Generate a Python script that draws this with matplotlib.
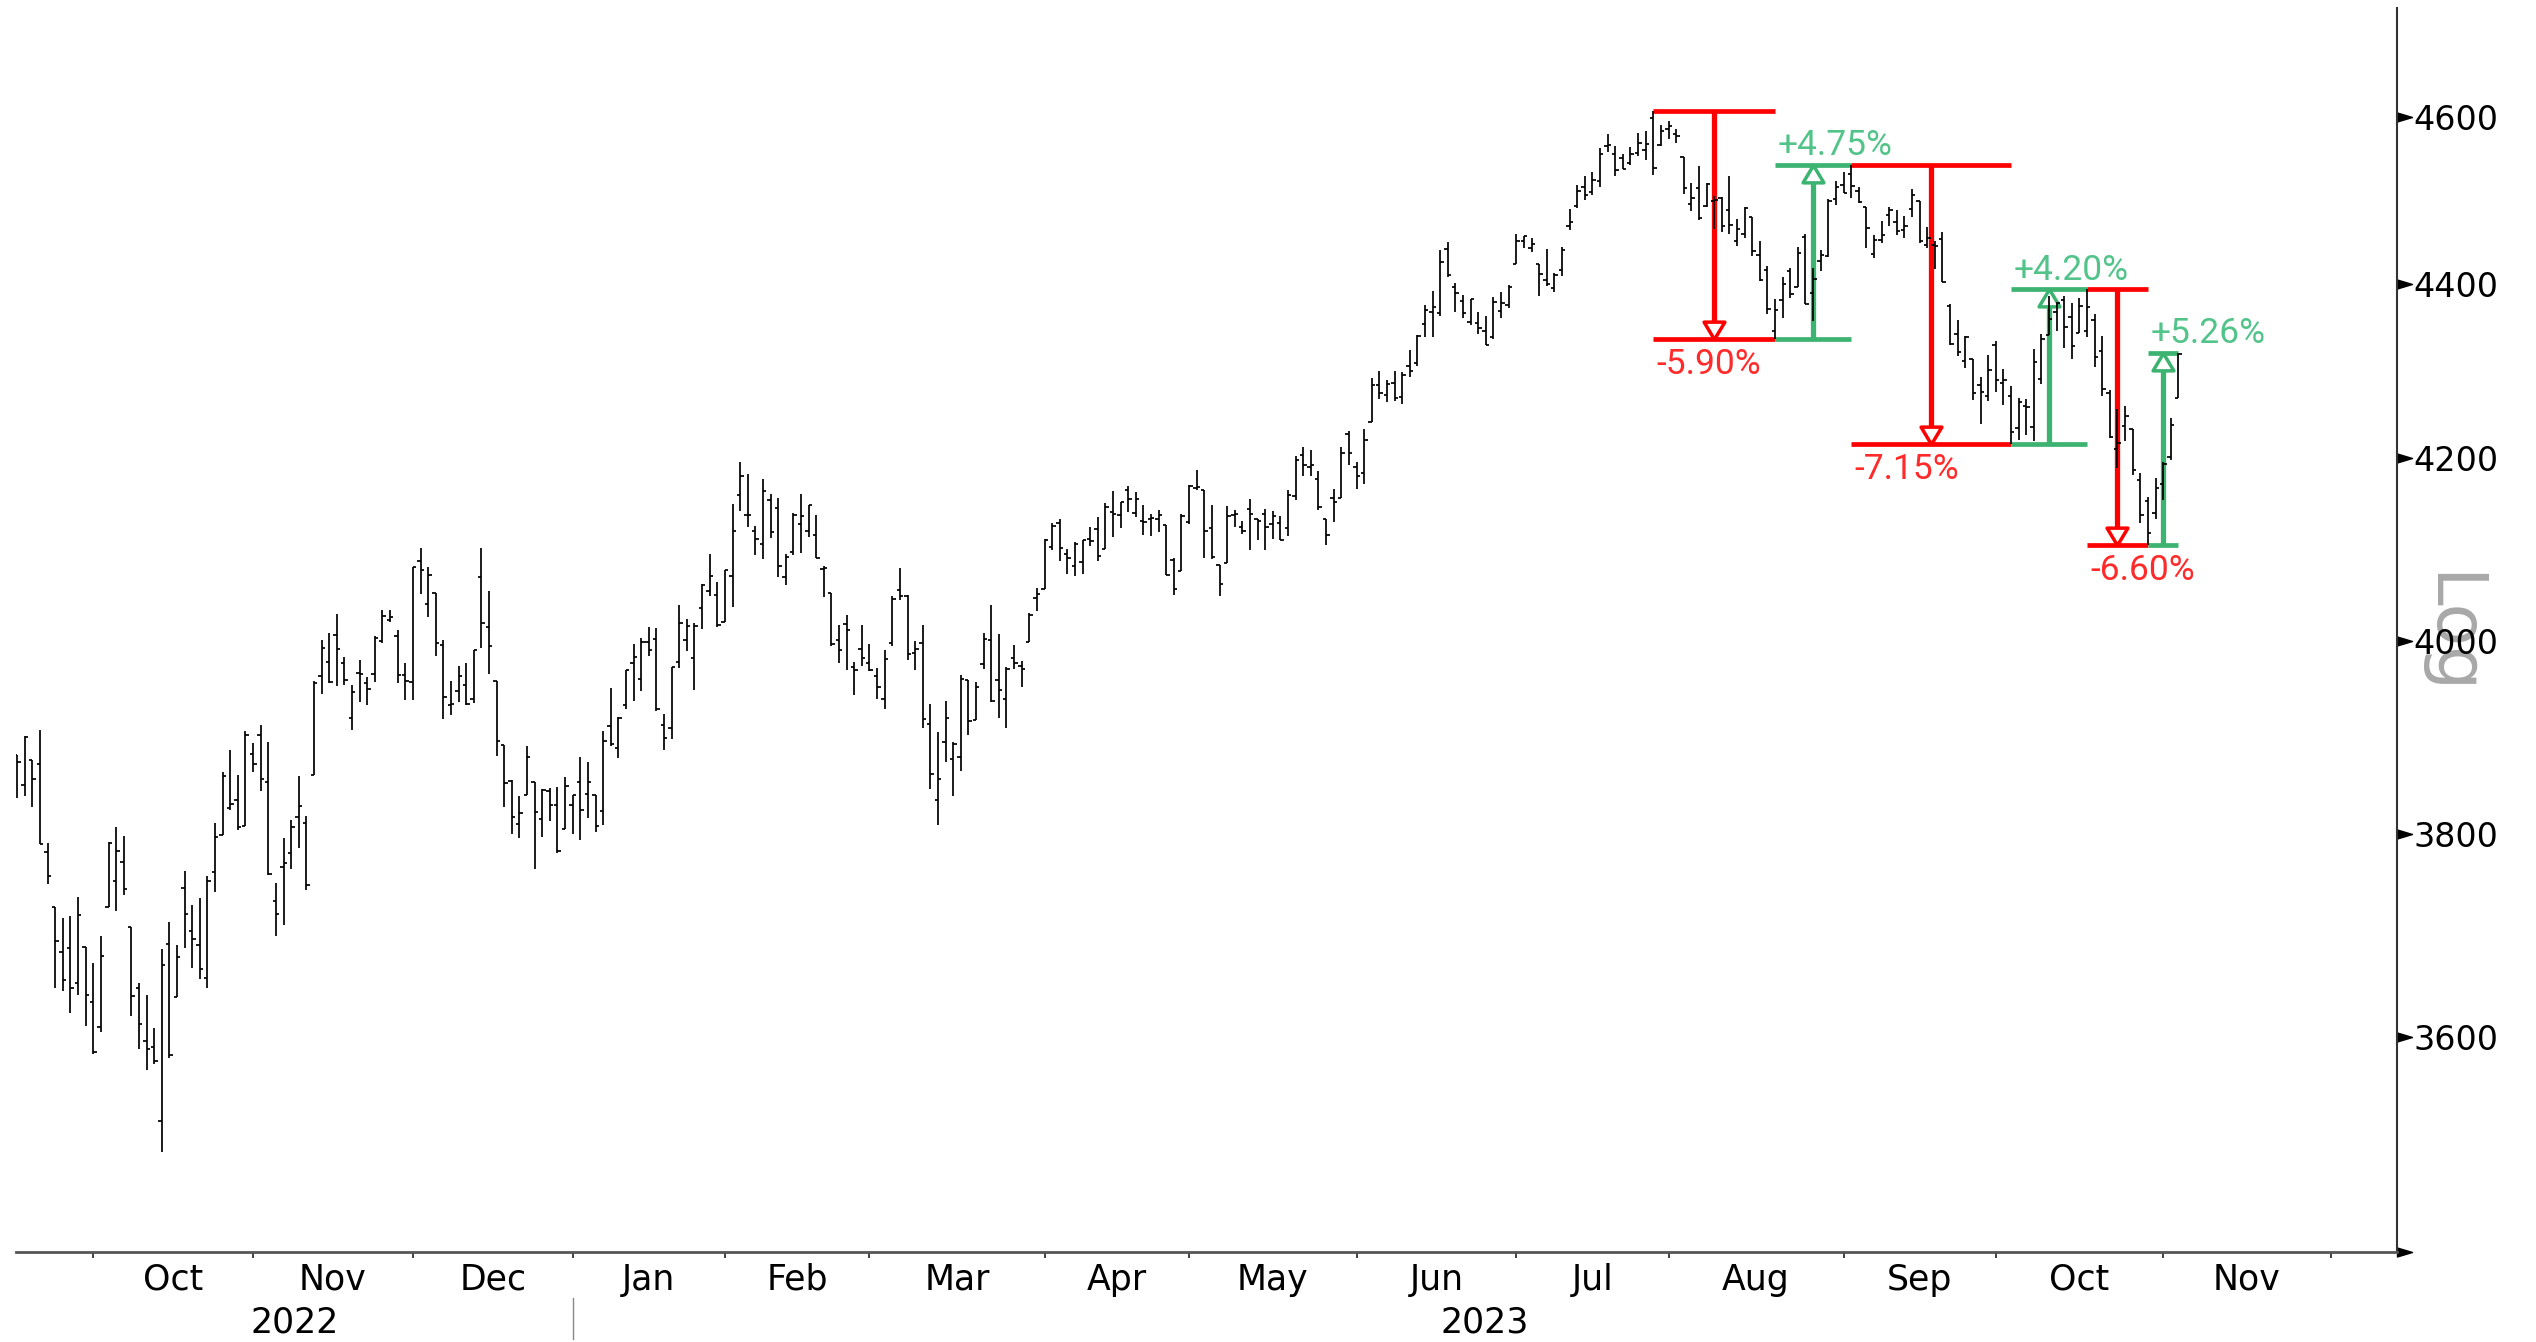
import numpy as np
import pandas as pd
import matplotlib
matplotlib.use("Agg")
import matplotlib.pyplot as plt
import matplotlib.transforms as mtransforms
from matplotlib.path import Path
from matplotlib.ticker import NullLocator, NullFormatter

# daily bars, 16 Sep 2022 -> 2 Nov 2023 (one row per month)
opens = [
    3880.95, 3849.91, 3875.23, 3871.40, 3782.36, 3727.14, 3682.72, 3686.44, 3651.94, 3687.01, 3633.48,
    3609.78, 3726.46, 3753.25, 3771.97, 3706.74, 3647.51, 3595.86, 3590.83, 3520.37, 3690.41, 3638.65, 3746.26, 3703.11, 3689.05, 3657.10, 3762.01, 3799.44, 3825.97, 3834.69, 3808.26, 3881.85,
    3901.79, 3852.90, 3733.25, 3766.98, 3780.71, 3817.02, 3810.94, 3859.89, 3963.72, 3977.97, 4006.41, 3976.82, 3919.26, 3966.39, 3956.23, 3965.51, 4000.30, 4023.34, 4005.36, 3964.19, 3957.18,
    4087.14, 4040.17, 4052.02, 3996.63, 3933.28, 3947.79, 3954.17, 3939.29, 4069.38, 4015.54, 3958.37, 3890.91, 3853.79, 3810.47, 3839.49, 3853.26, 3815.11, 3843.34, 3829.56, 3805.45, 3829.06,
    3853.29, 3840.36, 3839.74, 3823.37, 3910.82, 3888.57, 3932.35, 3977.57, 3960.60, 3999.28, 4002.25, 3911.84, 3909.04, 3978.14, 4001.74, 3982.71, 4036.08, 4053.72, 4049.27, 4020.85,
    4070.07, 4158.68, 4136.69, 4119.57, 4105.35, 4153.47, 4144.25, 4068.92, 4096.62, 4126.70, 4119.50, 4114.75, 4077.39, 4052.35, 4001.83, 4018.60, 3973.24, 3992.36, 3977.19,
    3963.34, 3938.68, 3998.02, 4055.15, 4048.26, 3987.55, 3998.66, 3912.77, 3835.12, 3894.01, 3876.74, 3878.93, 3958.69, 3917.47, 3975.89, 4002.04, 3959.21, 3939.21, 3982.93, 3974.13, 3999.53, 4046.74, 4056.18,
    4102.20, 4128.03, 4094.50, 4081.15, 4085.20, 4110.29, 4121.72, 4100.04, 4140.11, 4137.17, 4164.26, 4139.33, 4130.48, 4132.14, 4132.07, 4126.43, 4087.78, 4075.29, 4129.63,
    4166.79, 4164.10, 4122.25, 4082.61, 4084.73, 4136.98, 4124.25, 4143.74, 4132.24, 4138.54, 4126.65, 4127.95, 4122.85, 4157.68, 4204.15, 4190.78, 4176.80, 4132.96, 4155.71, 4156.16, 4226.71, 4190.74,
    4183.03, 4241.01, 4282.99, 4271.34, 4285.47, 4268.69, 4304.88, 4308.32, 4352.61, 4366.29, 4365.33, 4440.95, 4396.11, 4380.01, 4355.40, 4354.17, 4344.84, 4337.36, 4367.48, 4374.94, 4422.44,
    4450.48, 4442.04, 4422.62, 4404.54, 4394.23, 4415.55, 4467.69, 4491.50, 4514.61, 4508.86, 4521.78, 4563.87, 4554.38, 4550.16, 4543.39, 4555.19, 4558.96, 4598.26, 4565.75, 4584.82,
    4578.83, 4550.93, 4494.27, 4513.96, 4491.58, 4498.03, 4501.57, 4487.16, 4450.69, 4458.13, 4478.87, 4433.79, 4416.32, 4344.88, 4380.28, 4415.33, 4396.44, 4455.16, 4389.38, 4426.03, 4432.75, 4500.34, 4517.01,
    4530.60, 4510.06, 4490.35, 4434.55, 4451.30, 4480.98, 4473.27, 4462.65, 4487.78, 4497.98, 4445.13, 4445.41, 4452.81, 4374.36, 4341.74, 4310.62, 4312.88, 4282.63, 4269.65, 4328.18,
    4284.52, 4269.75, 4233.83, 4259.31, 4234.79, 4289.02, 4339.75, 4366.59, 4380.94, 4360.49, 4342.37, 4345.23, 4357.35, 4321.36, 4273.85, 4210.40, 4235.79, 4232.42, 4175.99, 4152.93, 4139.39, 4171.33,
    4201.27, 4268.26,
]
highs = [
    3880.95, 3900.45, 3876.01, 3907.07, 3790.53, 3727.14, 3715.67, 3717.53, 3736.74, 3687.01, 3671.44,
    3698.35, 3791.92, 3806.91, 3797.93, 3706.74, 3652.17, 3640.66, 3608.34, 3685.41, 3712.00, 3689.73, 3762.79, 3728.58, 3736.00, 3757.89, 3810.74, 3862.85, 3886.15, 3859.95, 3905.42, 3893.73,
    3911.79, 3894.44, 3750.59, 3796.34, 3813.95, 3859.40, 3818.20, 3958.33, 4001.48, 4008.97, 4028.84, 3983.09, 3954.33, 3979.89, 3962.00, 4005.88, 4033.78, 4034.02, 4012.27, 3976.77, 4080.11,
    4100.51, 4080.48, 4052.45, 4001.51, 3957.57, 3974.19, 3977.02, 3990.71, 4100.96, 4053.76, 3958.37, 3890.91, 3854.86, 3838.24, 3889.82, 3853.26, 3845.80, 3846.65, 3848.32, 3858.19, 3839.85,
    3878.46, 3873.16, 3839.74, 3906.19, 3950.57, 3919.83, 3970.07, 3997.76, 4003.95, 4015.39, 4014.16, 3922.94, 3972.96, 4039.31, 4023.92, 4019.55, 4061.57, 4094.21, 4063.85, 4077.16,
    4148.95, 4195.44, 4182.36, 4124.63, 4176.54, 4160.67, 4156.23, 4094.36, 4138.90, 4159.77, 4148.11, 4136.54, 4081.51, 4052.35, 4017.37, 4028.30, 3978.25, 4018.05, 3997.50,
    3971.73, 3990.84, 4048.29, 4078.49, 4050.00, 4000.41, 4017.81, 3934.05, 3905.05, 3937.29, 3894.26, 3964.46, 3958.91, 3956.62, 4009.08, 4039.49, 4007.66, 3972.74, 3996.68, 3979.20, 4030.59, 4057.85, 4110.75,
    4127.66, 4133.13, 4099.69, 4107.32, 4109.50, 4124.26, 4134.37, 4150.26, 4163.19, 4151.72, 4169.48, 4162.57, 4148.57, 4138.02, 4142.41, 4126.43, 4089.67, 4138.24, 4170.06,
    4186.92, 4164.10, 4148.30, 4082.61, 4147.02, 4142.30, 4130.35, 4154.28, 4132.80, 4143.74, 4141.25, 4135.54, 4164.67, 4202.20, 4212.91, 4209.22, 4185.68, 4132.96, 4165.74, 4212.87, 4231.10, 4195.44,
    4232.43, 4290.67, 4299.28, 4288.33, 4299.19, 4298.01, 4322.62, 4340.13, 4375.37, 4391.82, 4439.20, 4448.47, 4400.15, 4386.22, 4382.25, 4366.55, 4362.06, 4384.42, 4390.35, 4398.39, 4458.48,
    4456.46, 4454.06, 4422.62, 4440.39, 4412.60, 4443.64, 4488.34, 4517.38, 4527.76, 4532.85, 4562.30, 4578.43, 4564.74, 4555.00, 4563.41, 4580.62, 4582.47, 4607.07, 4590.16, 4594.22,
    4584.62, 4550.93, 4519.49, 4540.34, 4519.84, 4503.31, 4502.44, 4527.37, 4476.23, 4490.33, 4478.87, 4449.95, 4421.17, 4381.82, 4407.55, 4418.59, 4443.18, 4458.30, 4418.46, 4439.56, 4500.14, 4521.65, 4532.26,
    4541.25, 4514.29, 4490.35, 4457.81, 4473.53, 4490.77, 4487.11, 4479.39, 4511.99, 4497.98, 4466.36, 4449.85, 4461.03, 4375.70, 4357.40, 4338.51, 4313.01, 4292.07, 4317.27, 4333.15,
    4300.58, 4281.15, 4268.50, 4267.13, 4324.10, 4341.73, 4385.46, 4378.64, 4385.85, 4377.10, 4383.33, 4393.57, 4364.20, 4339.54, 4276.56, 4255.84, 4259.38, 4232.42, 4183.60, 4156.70, 4177.47, 4195.55,
    4245.64, 4319.72,
]
lows = [
    3837.08, 3838.50, 3827.54, 3789.49, 3749.45, 3647.47, 3644.76, 3623.29, 3640.61, 3610.40, 3584.13,
    3604.93, 3726.46, 3722.66, 3739.22, 3620.73, 3588.10, 3568.45, 3573.86, 3491.58, 3579.68, 3638.65, 3686.53, 3666.51, 3656.44, 3647.42, 3741.65, 3799.44, 3824.07, 3803.79, 3808.26, 3863.18,
    3843.80, 3758.68, 3698.15, 3708.84, 3764.70, 3786.28, 3744.22, 3859.89, 3944.82, 3956.40, 3953.17, 3954.34, 3906.54, 3935.98, 3933.34, 3956.88, 3998.66, 4020.76, 3955.77, 3937.65, 3938.58,
    4050.87, 4026.63, 3984.49, 3918.39, 3922.68, 3935.83, 3933.04, 3935.30, 3993.03, 3965.65, 3879.45, 3827.91, 3800.04, 3795.62, 3839.49, 3764.49, 3797.01, 3813.22, 3780.78, 3805.45, 3800.34,
    3794.33, 3815.77, 3802.42, 3809.56, 3890.42, 3877.29, 3928.54, 3937.56, 3947.67, 3984.57, 3926.59, 3885.54, 3897.86, 3971.64, 3989.79, 3949.06, 4013.29, 4048.70, 4015.55, 4020.44,
    4037.20, 4141.88, 4123.36, 4093.38, 4088.39, 4111.21, 4069.67, 4060.79, 4092.67, 4095.01, 4113.02, 4089.49, 4047.95, 3995.19, 3976.90, 3969.19, 3943.08, 3973.55, 3968.98,
    3939.05, 3928.16, 3995.17, 4044.61, 3980.31, 3969.76, 3908.70, 3846.32, 3808.86, 3873.63, 3838.24, 3864.11, 3901.27, 3916.89, 3971.19, 3936.17, 3919.05, 3909.16, 3970.67, 3951.53, 3999.53, 4032.10, 4056.18,
    4098.79, 4086.87, 4072.56, 4069.84, 4072.55, 4102.61, 4086.94, 4099.40, 4113.20, 4123.18, 4140.36, 4134.49, 4114.57, 4113.86, 4117.77, 4071.38, 4049.35, 4075.29, 4127.18,
    4164.12, 4089.72, 4088.86, 4048.28, 4084.73, 4123.81, 4116.65, 4098.92, 4109.29, 4099.12, 4110.27, 4109.86, 4113.62, 4153.50, 4180.20, 4179.68, 4142.54, 4103.98, 4129.73, 4156.16, 4192.18, 4166.15,
    4171.64, 4241.01, 4266.82, 4263.09, 4263.96, 4261.07, 4291.70, 4304.37, 4337.54, 4337.85, 4362.60, 4407.44, 4367.19, 4360.14, 4351.82, 4341.34, 4328.08, 4335.00, 4360.22, 4371.97, 4422.44,
    4442.29, 4436.61, 4385.05, 4397.40, 4389.92, 4408.46, 4463.23, 4489.36, 4499.56, 4504.90, 4514.59, 4557.48, 4527.56, 4535.79, 4541.29, 4552.42, 4547.58, 4528.56, 4564.01, 4573.14,
    4567.53, 4505.75, 4485.54, 4474.55, 4491.15, 4464.39, 4461.33, 4457.92, 4443.98, 4453.44, 4432.19, 4403.55, 4364.83, 4335.31, 4360.30, 4382.77, 4396.44, 4375.55, 4356.29, 4414.98, 4431.68, 4493.59, 4507.39,
    4501.35, 4496.01, 4442.38, 4430.46, 4448.38, 4467.89, 4456.83, 4453.52, 4478.69, 4447.21, 4442.11, 4416.61, 4401.38, 4329.17, 4316.49, 4302.70, 4265.98, 4238.63, 4264.38, 4274.86,
    4260.21, 4216.45, 4220.48, 4225.91, 4219.55, 4283.79, 4339.64, 4345.34, 4325.43, 4311.97, 4342.37, 4337.54, 4303.84, 4269.69, 4223.03, 4189.22, 4219.43, 4181.42, 4127.90, 4103.78, 4132.94, 4153.12,
    4197.74, 4268.26,
]
closes = [
    3873.33, 3899.89, 3855.93, 3789.93, 3757.99, 3693.23, 3655.04, 3647.29, 3719.04, 3640.47, 3585.62,
    3678.43, 3790.93, 3783.28, 3744.52, 3639.66, 3612.39, 3588.84, 3577.03, 3669.91, 3583.07, 3677.95, 3719.98, 3695.16, 3665.78, 3752.75, 3797.34, 3859.11, 3830.60, 3807.30, 3901.06, 3871.98,
    3856.10, 3759.69, 3719.89, 3770.55, 3806.80, 3828.11, 3748.57, 3956.37, 3992.93, 3957.25, 3991.73, 3958.79, 3946.56, 3965.34, 3949.94, 4003.58, 4027.26, 4026.12, 3963.94, 3957.63, 4080.11,
    4076.57, 4071.70, 3998.84, 3941.26, 3933.92, 3963.51, 3934.38, 3990.56, 4019.65, 3995.32, 3895.75, 3852.36, 3817.66, 3821.62, 3878.44, 3822.39, 3844.82, 3829.25, 3783.22, 3849.28, 3839.50,
    3824.14, 3852.97, 3808.10, 3895.08, 3892.09, 3919.25, 3969.61, 3983.17, 3999.09, 3990.97, 3928.86, 3898.85, 3972.61, 4019.81, 4016.95, 4016.22, 4060.43, 4070.56, 4017.77, 4076.60,
    4119.21, 4179.76, 4136.48, 4111.08, 4164.00, 4117.86, 4081.50, 4090.46, 4137.29, 4136.13, 4147.60, 4090.41, 4079.09, 3997.34, 3991.05, 4012.32, 3970.04, 3982.24, 3970.15,
    3951.39, 3981.35, 4045.64, 4048.42, 3986.37, 3992.01, 3918.32, 3861.59, 3855.76, 3919.29, 3891.93, 3960.28, 3916.64, 3951.57, 4002.87, 3936.97, 3948.72, 3970.99, 3977.53, 3971.27, 4027.81, 4050.83, 4109.31,
    4124.51, 4100.60, 4090.38, 4105.02, 4109.11, 4108.94, 4091.95, 4146.22, 4137.64, 4151.32, 4154.87, 4154.52, 4129.79, 4133.52, 4137.04, 4071.63, 4055.99, 4135.35, 4169.48,
    4167.87, 4119.58, 4090.75, 4061.22, 4136.25, 4138.12, 4119.17, 4137.64, 4130.62, 4124.08, 4136.28, 4109.90, 4158.77, 4198.05, 4191.98, 4192.63, 4145.58, 4115.24, 4151.28, 4205.45, 4205.52, 4179.83,
    4221.02, 4282.37, 4273.79, 4283.85, 4267.52, 4293.93, 4298.86, 4338.93, 4369.01, 4372.59, 4425.84, 4409.59, 4388.71, 4365.69, 4381.89, 4348.33, 4328.82, 4378.41, 4376.86, 4396.44, 4450.38,
    4455.59, 4446.82, 4411.59, 4398.95, 4409.53, 4439.26, 4472.16, 4510.04, 4505.42, 4522.79, 4554.98, 4565.72, 4534.87, 4536.34, 4554.64, 4567.46, 4566.75, 4537.41, 4582.23, 4588.96,
    4576.73, 4513.39, 4501.89, 4478.03, 4518.44, 4499.38, 4467.71, 4468.83, 4464.05, 4489.72, 4437.86, 4404.33, 4370.36, 4369.71, 4399.77, 4387.55, 4436.01, 4376.31, 4405.71, 4433.31, 4497.63, 4514.87, 4507.66,
    4515.77, 4496.83, 4465.48, 4451.14, 4457.49, 4487.46, 4461.90, 4467.44, 4505.10, 4450.32, 4453.53, 4443.95, 4402.20, 4330.00, 4320.06, 4337.44, 4273.53, 4274.51, 4299.70, 4288.05,
    4288.39, 4229.45, 4263.75, 4258.19, 4308.50, 4335.66, 4358.24, 4376.95, 4349.61, 4327.78, 4373.63, 4373.20, 4314.60, 4278.00, 4224.16, 4217.04, 4247.68, 4186.77, 4137.23, 4117.37, 4166.82, 4193.80,
    4237.86, 4317.78,
]

holidays = ["2022-11-24", "2022-12-26", "2023-01-02", "2023-01-16", "2023-02-20",
            "2023-04-07", "2023-05-29", "2023-06-19", "2023-07-04", "2023-09-04"]

# swing points: high, low, high, low ...
swing_dates = ["2023-07-27", "2023-08-18", "2023-09-01", "2023-10-03",
               "2023-10-17", "2023-10-27", "2023-11-02"]

y_ticks = [3400, 3600, 3800, 4000, 4200, 4400, 4600]
y_labels = ["", "3600", "3800", "4000", "4200", "4400", "4600"]
years = ["2022", "2023"]

RED = "#ff0000"
GREEN = "#3cb371"
RED_TXT = "#ff2a2a"
GREEN_TXT = "#52c48a"

plt.rcParams["font.family"] = "DejaVu Sans"

dates = pd.bdate_range("2022-09-16", "2023-11-02")
dates = dates[~dates.isin(pd.to_datetime(holidays))]
# x axis keeps running on weekdays after the last bar
axis_dates = dates.append(pd.bdate_range("2023-11-03", "2023-12-29"))

fig = plt.figure(figsize=(25.36, 13.42), dpi=100)
ax = fig.add_axes([0.0063, 0.0673, 0.9388, 0.9267])

idx = np.arange(len(closes))
ax.vlines(idx, lows, highs, color="black", lw=1.25, zorder=3)
ax.hlines(opens, idx - 0.45, idx, color="black", lw=1.25, zorder=3)
ax.hlines(closes, idx, idx + 0.45, color="black", lw=1.25, zorder=3)

ax.set_yscale("log")
ax.set_ylim(3400, 4735)
ax.set_xlim(-0.16, 312.7)

# swing arrows
down_tri = Path([(0, 0), (-0.6, 1), (0.6, 1), (0, 0)], closed=True)
up_tri = Path([(0, 0), (-0.6, -1), (0.6, -1), (0, 0)], closed=True)
sw_idx = [dates.get_loc(pd.Timestamp(d)) for d in swing_dates]
sw_lev = [highs[i] if k % 2 == 0 else lows[i] for k, i in enumerate(sw_idx)]
for k in range(len(sw_idx) - 1):
    a, b = sw_idx[k], sw_idx[k + 1]
    y0, y1 = sw_lev[k], sw_lev[k + 1]
    down = y1 < y0
    col = RED if down else GREEN
    ax.hlines([y0, y1], a, b, color=col, lw=3.4, zorder=2)
    mid = (a + b) / 2
    ax.vlines(mid, min(y0, y1), max(y0, y1), color=col, lw=3.8, zorder=2)
    ax.plot([mid], [y1], marker=down_tri if down else up_tri, ms=25, mfc="white",
            mec=col, mew=2.5, ls="none", zorder=2.5)
    pct = (y1 / y0 - 1) * 100
    ax.annotate(f"{pct:+.2f}%", xy=(a + 0.4, y1), xytext=(0, -25.2 if down else 6.8),
                textcoords="offset points", ha="left", va="baseline",
                color=RED_TXT if down else GREEN_TXT, fontsize=25.5,
                family=["DejaVu Sans Condensed", "Roboto"], fontstretch="condensed", zorder=4)

# y axis on the right, triangle ticks
ax.yaxis.tick_right()
ax.set_yticks(y_ticks)
ax.set_yticklabels(y_labels)
ax.yaxis.set_minor_locator(NullLocator())
ax.yaxis.set_minor_formatter(NullFormatter())
ax.tick_params(axis="y", length=0, pad=12, labelsize=24)
tick_tri = Path([(0, -0.3), (1, 0), (0, 0.3), (0, -0.3)], closed=True)
ax.plot(np.ones(len(y_ticks)), y_ticks, marker=tick_tri, ms=21.6, color="black", ls="none",
        transform=mtransforms.blended_transform_factory(ax.transAxes, ax.transData), clip_on=False)

# month ticks sit on the last day of each month
tick_pos = [i for i in range(len(axis_dates) - 1) if axis_dates[i].month != axis_dates[i + 1].month]
ax.set_xticks(tick_pos)
ax.set_xticklabels([])
ax.tick_params(axis="x", direction="out", length=4.3, width=1.3, color="#333333")

for t0, t1 in zip(tick_pos[:-1], tick_pos[1:]):
    ax.annotate(axis_dates[t0 + 1].strftime("%b"), xy=((t0 + t1) / 2, 0),
                xycoords=("data", "axes fraction"), xytext=(0, -27.4), textcoords="offset points",
                ha="center", va="baseline", fontsize=25, annotation_clip=False)

jan = tick_pos[3]
xl = ax.get_xlim()
for yr, cx in zip(years, [(xl[0] + jan) / 2, (jan + xl[1]) / 2]):
    ax.annotate(yr, xy=(cx, 0), xycoords=("data", "axes fraction"), xytext=(0, -58.5),
                textcoords="offset points", ha="center", va="baseline", fontsize=25,
                annotation_clip=False)
ax.plot([jan, jan], [-0.037, -0.070], color="#888888", lw=1,
        transform=mtransforms.blended_transform_factory(ax.transData, ax.transAxes), clip_on=False)

for s in ["left", "top"]:
    ax.spines[s].set_visible(False)
ax.spines["bottom"].set_color("#555555")
ax.spines["bottom"].set_linewidth(2)
ax.spines["right"].set_color("#333333")
ax.spines["right"].set_linewidth(1.5)

fig.text(0.966, 0.5276, "Log", rotation=270, fontsize=50, color="#a8a8a8",
         ha="center", va="center", zorder=-1)

fig.savefig("out.png", dpi=100)
